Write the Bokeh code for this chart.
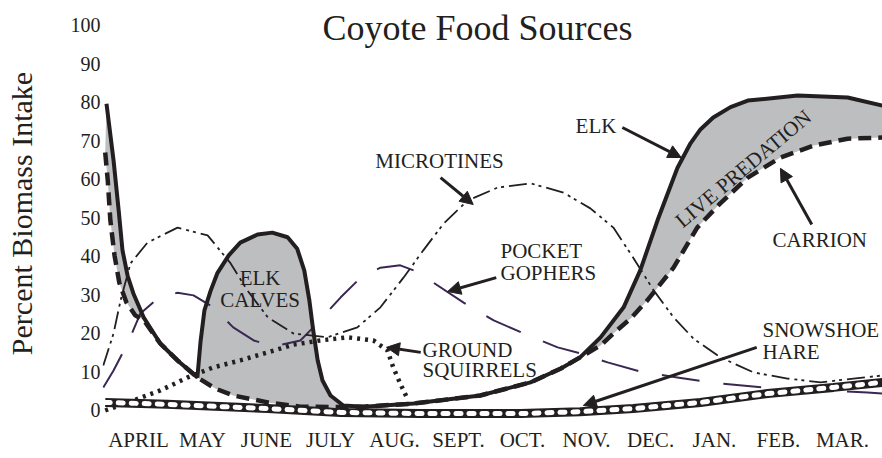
from bokeh.plotting import figure
from bokeh.models import Range1d, Label, Arrow, NormalHead, FixedTicker
from bokeh.embed import file_html
from bokeh.resources import INLINE

# ---------------- data ----------------
months = ["APRIL", "MAY", "JUNE", "JULY", "AUG.", "SEPT.", "OCT.",
          "NOV.", "DEC.", "JAN.", "FEB.", "MAR."]
month_pos = list(range(len(months)))
y_ticks = [0, 10, 20, 30, 40, 50, 60, 70, 80, 90, 100]

# Elk (live predation + elk calves) - solid line
elk_x = [-0.50, -0.39, -0.31, -0.25, -0.17, -0.08, 0.08, 0.34, 0.61, 0.92,
         0.97, 1.03, 1.125, 1.23, 1.41, 1.59, 1.86, 2.09, 2.33, 2.48, 2.59,
         2.67, 2.73, 2.80, 2.875, 3.0, 3.2, 3.52, 4.3, 5.34, 6.125, 6.6, 6.9,
         7.22, 7.58, 7.84, 8.11, 8.42, 8.625, 8.78, 8.98, 9.25, 9.52, 10.3,
         11.08, 11.625]
elk_y = [79.7, 65, 52, 41.6, 35, 30.4, 24.2, 17.4, 13, 8.6,
         18, 26, 31, 35.6, 40.3, 43.6, 45.7, 46.2, 45, 42, 36.4,
         28.6, 20.8, 13, 7.8, 3.9, 1.3, 1.0, 1.8, 3.9, 7.3, 10.9, 13.8,
         19, 26.8, 36.4, 49.4, 63, 69.4, 73.0, 76.1, 78.8, 80.5, 81.8,
         81.3, 79.2]

# Carrion - thick dashed line
carrion_x = [-0.52, -0.48, -0.44, -0.375, -0.30, -0.19, -0.05, 0.08, 0.34,
             0.61, 0.92, 1.2, 1.48, 2.02, 2.53, 3.2, 3.52, 4.3, 5.34, 6.125,
             6.6, 6.9, 7.22, 7.42, 7.69, 7.95, 8.36, 8.73, 9.09, 9.52, 10.03,
             10.55, 11.08, 11.625]
carrion_y = [67, 59.7, 49.4, 40.3, 33.2, 28.1, 24.7, 23.5, 17.4,
             13, 8.6, 5.7, 3.9, 2.1, 1.0, 0.9, 1.0, 1.8, 3.9, 7.3,
             10.9, 13.8, 16.9, 20, 23.9, 28.6, 37.1, 47.5, 53.8, 60.5, 65.7,
             68.8, 70.6, 70.9]

# Microtines
microtines_x = [-0.55, -0.39, -0.28, -0.125, 0.14, 0.61, 1.08, 1.44, 1.70,
                2.02, 2.42, 2.95, 3.42, 3.78, 4.14, 4.45, 4.77, 5.14, 5.61,
                6.125, 6.64, 7.06, 7.42, 7.73, 8.05, 8.36, 8.67, 9.09, 9.61,
                10.14, 10.66, 11.17, 11.625]
microtines_y = [11.7, 20, 28.6, 38.2, 43.6, 47.5, 45.5, 38.2, 31.2,
                24.2, 20, 19, 21.6, 26.8, 34.5, 41.6, 48.6, 54.5, 57.9,
                59, 56.6, 52.5, 47.5, 39.7, 31.2, 24.2, 18.7, 13.8, 9.9,
                8.3, 7.3, 8.3, 9.1]

# Pocket gophers
gophers_x = [-0.55, -0.39, -0.17, 0.03, 0.30, 0.61, 0.86, 1.17, 1.48, 1.80,
             2.11, 2.53, 2.73, 3.16, 3.47, 3.78, 4.09, 4.30, 4.61, 5.08, 5.55,
             6.02, 6.55, 6.91, 7.33, 7.89, 8.42, 8.94, 9.92, 11.39, 11.625]
gophers_y = [6, 10.4, 17.4, 25.2, 29.1, 30.6, 29.9, 26.8, 21.6, 18.2,
             16.6, 18.2, 21.6, 29.4, 34.5, 37.1, 37.7, 36.4, 33.2, 28, 23.4,
             20, 16.4, 14.8, 12.5, 9.9, 8.6, 7.3, 5.7, 4.7, 4.4]

# Ground squirrels
squirrels_x = [-0.52, -0.08, 0.34, 0.77, 1.17, 1.59, 2.02, 2.42, 2.84, 3.27,
               3.67, 3.89, 3.98, 4.09, 4.2]
squirrels_y = [0, 2.6, 5.2, 8.6, 11.2, 13, 15.1, 17.1, 18.2, 19,
               18.2, 15.6, 11.2, 7, 3.1]

# Snowshoe hare
hare_x = [-0.52, 0.45, 2.02, 3.16, 4.4, 5.97, 6.9, 7.73, 8.78, 9.83, 10.86, 11.625]
hare_y = [2.1, 1.6, 0.5, -0.5, -0.8, -0.8, -0.3, 0.5, 2.1, 4.4, 6.0, 7.3]

# ---------------- figure ----------------
INK = "#231f20"
FONT = "Liberation Serif"

p = figure(width=882, height=458,
           x_range=Range1d(-0.5625, 11.625), y_range=Range1d(-4.156, 106.49),
           output_backend="svg", toolbar_location=None,
           min_border_left=102, min_border_right=0, min_border_top=0,
           min_border_bottom=32)
p.outline_line_color = None
p.grid.visible = False
p.background_fill_color = "white"
p.border_fill_color = "white"

xa = p.xaxis[0]
xa.ticker = FixedTicker(ticks=month_pos)
xa.major_label_overrides = {i: m for i, m in zip(month_pos, months)}
ya = p.yaxis[0]
ya.ticker = FixedTicker(ticks=y_ticks)
ya.axis_label = "Percent Biomass Intake"
for ax in (xa, ya):
    ax.axis_line_color = None
    ax.major_tick_line_color = None
    ax.minor_tick_line_color = None
    ax.major_tick_out = 0
    ax.major_tick_in = 0
    ax.major_label_text_font = FONT
    ax.major_label_text_color = INK
xa.major_label_text_font_size = "21px"
xa.major_label_standoff = 1
ya.major_label_text_font_size = "20px"
ya.major_label_standoff = 2
ya.axis_label_text_font = FONT
ya.axis_label_text_font_style = "normal"
ya.axis_label_text_font_size = "30px"
ya.axis_label_text_color = INK
ya.axis_label_standoff = 30

# grey band between elk and carrion
p.patch(elk_x + carrion_x[::-1], elk_y + carrion_y[::-1],
        fill_color="#bcbec0", line_color=None)

p.line(gophers_x, gophers_y, line_color="#3a2852", line_width=2,
       line_dash="38 24")
p.line(microtines_x, microtines_y, line_color=INK, line_width=1.8,
       line_dash="18 5 3 4 3 5")
p.line(squirrels_x, squirrels_y, line_color=INK, line_width=4.5,
       line_dash="3 5")
p.line(carrion_x, carrion_y, line_color=INK, line_width=4.5,
       line_dash="13 7")
p.line(elk_x, elk_y, line_color=INK, line_width=4)
p.line(hare_x, hare_y, line_color=INK, line_width=9)
p.line(hare_x, hare_y, line_color="white", line_width=5, line_dash="5 8",
       line_cap="round")

# title
p.add_layout(Label(x=5.297, y=99.22, text="Coyote Food Sources",
                   text_align="center", text_baseline="middle",
                   text_font=FONT, text_font_size="36px", text_color=INK))

def lab(x, y, t, align="left", angle=0, size="21px"):
    p.add_layout(Label(x=x, y=y, text=t, text_align=align,
                       text_baseline="middle", text_font=FONT,
                       text_font_size=size, text_color=INK, angle=angle,
                       angle_units="deg"))

lab(1.90, 34.3, "ELK", "center")
lab(1.90, 28.6, "CALVES", "center")
lab(3.70, 64.9, "MICROTINES")
lab(5.656, 41.3, "POCKET")
lab(5.656, 35.8, "GOPHERS")
lab(4.4375, 15.6, "GROUND")
lab(4.4375, 10.4, "SQUIRRELS")
lab(6.83, 73.8, "ELK")
lab(9.906, 44.4, "CARRION")
lab(9.75, 20.8, "SNOWSHOE")
lab(9.75, 15.3, "HARE")
lab(9.45, 62.8, "LIVE PREDATION", "center", angle=40, size="21px")

def arrow(x0, y0, x1, y1):
    p.add_layout(Arrow(end=NormalHead(size=13, fill_color=INK, line_color=INK),
                       x_start=x0, y_start=y0, x_end=x1, y_end=y1,
                       line_color=INK, line_width=3))

arrow(4.72, 60.5, 5.23, 53.5)     # microtines
arrow(5.59, 34.5, 4.83, 30.9)     # pocket gophers
arrow(4.41, 15.1, 3.875, 16.4)    # ground squirrels
arrow(7.56, 73.5, 8.48, 65.7)     # elk
arrow(10.52, 48.3, 10.03, 62.9)   # carrion
arrow(9.66, 16.4, 6.95, 1.3)      # snowshoe hare

open("out.html", "w").write(file_html(p, INLINE))
